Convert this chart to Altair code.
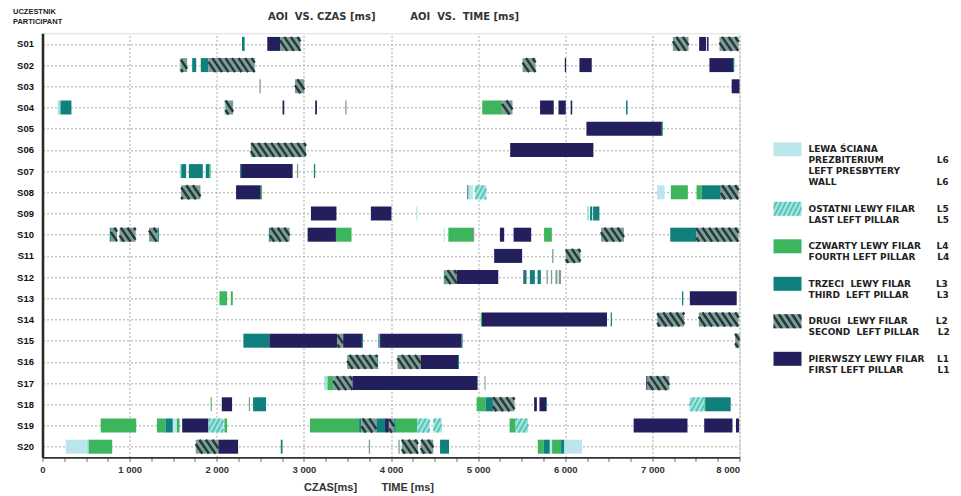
import json
import altair as alt
import pandas as pd

# ---------------- data ----------------
ROW_LABELS = [f"S{i:02d}" for i in range(1, 21)]

S01 = [(2290, 2320, "L3"), (2580, 2726, "L1"), (2726, 2960, "L2"), (7235, 7415, "L2"),
       (7537, 7617, "L1"), (7628, 7645, "L1"), (7770, 7990, "L2")]
S02 = [(1572, 1588, "L5"), (1588, 1660, "L2"), (1718, 1764, "L3"), (1817, 1905, "L3"),
       (1905, 2436, "L2"), (5510, 5659, "L2"), (5995, 6010, "L1"), (6163, 6304, "L1"),
       (7655, 7926, "L1"), (7926, 7940, "L3")]
S03 = [(2490, 2505, "L2"), (2898, 3005, "L2"), (7910, 8000, "L1")]
S04 = [(175, 206, "L5"), (206, 332, "L3"), (2088, 2100, "L5"), (2100, 2188, "L2"),
       (2755, 2775, "L1"), (3130, 3150, "L1"), (3475, 3490, "L2"), (5047, 5276, "L4"),
       (5276, 5395, "L2"), (5711, 5868, "L1"), (5922, 6006, "L1"), (6062, 6080, "L1"),
       (6697, 6715, "L3")]
S05 = [(6243, 7109, "L1"), (7109, 7122, "L4")]
S06 = [(2390, 3024, "L2"), (5368, 6323, "L1")]
S07 = [(1575, 1592, "L5"), (1592, 1649, "L3"), (1680, 1840, "L3"), (1874, 1915, "L3"),
       (1915, 1930, "L4"), (2268, 2280, "L3"), (2280, 2871, "L1"), (2920, 2935, "L2"),
       (3115, 3130, "L3")]
S08 = [(1592, 1813, "L2"), (2222, 2505, "L1"), (2505, 2520, "L4"), (4875, 4890, "L3"),
       (4890, 4940, "L6"), (4963, 5093, "L5"), (7052, 7140, "L6"), (7212, 7407, "L4"),
       (7507, 7567, "L4"), (7567, 7785, "L3"), (7785, 7990, "L2")]
S09 = [(3081, 3374, "L1"), (3769, 4005, "L1"), (4290, 4305, "L6"), (6250, 6272, "L5"),
       (6285, 6310, "L3"), (6320, 6392, "L3")]
S10 = [(772, 785, "L3"), (785, 856, "L2"), (885, 1069, "L2"), (1222, 1313, "L2"),
       (1318, 1335, "L3"), (2598, 2610, "L3"), (2610, 2836, "L2"), (3043, 3368, "L1"),
       (3368, 3547, "L4"), (4605, 4620, "L6"), (4658, 4941, "L4"), (4941, 4955, "L2"),
       (5250, 5299, "L1"), (5407, 5609, "L1"), (5757, 5846, "L4"), (6410, 6674, "L2"),
       (7205, 7503, "L3"), (7503, 7990, "L2")]
S11 = [(5184, 5505, "L1"), (5850, 5865, "L2"), (6006, 6174, "L2")]
S12 = [(4606, 4620, "L4"), (4620, 4754, "L2"), (4754, 5231, "L1"), (5520, 5535, "L1"),
       (5535, 5556, "L3"), (5594, 5651, "L3"), (5682, 5720, "L3"), (5785, 5800, "L2"),
       (5835, 5850, "L2"), (5888, 5910, "L2"), (5925, 5952, "L2")]
S13 = [(2031, 2119, "L4"), (2161, 2184, "L4"), (7340, 7355, "L3"), (7430, 7968, "L1")]
S14 = [(5030, 5044, "L4"), (5044, 6479, "L1"), (6522, 6536, "L3"), (7056, 7366, "L2"),
       (7533, 7990, "L2")]
S15 = [(2306, 2604, "L3"), (2604, 3386, "L1"), (3386, 3451, "L2"), (3451, 3666, "L1"),
       (3666, 3678, "L3"), (3855, 3870, "L3"), (3875, 4811, "L1"), (4811, 4822, "L3"),
       (7950, 8000, "L2")]
S16 = [(3497, 3841, "L2"), (3841, 3852, "L3"), (4074, 4341, "L2"), (4341, 4769, "L1"),
       (4769, 4780, "L3")]
S17 = [(3234, 3272, "L5"), (3272, 3337, "L4"), (3337, 3558, "L2"), (3558, 4994, "L1"),
       (5073, 5085, "L2"), (6930, 6945, "L1"), (6945, 7194, "L2")]
S18 = [(1930, 1942, "L4"), (2058, 2176, "L1"), (2368, 2382, "L2"), (2417, 2566, "L3"),
       (4983, 5086, "L4"), (5086, 5170, "L3"), (5170, 5418, "L2"), (5643, 5674, "L1"),
       (5704, 5780, "L1"), (5780, 5790, "L3"), (7426, 7598, "L5"), (7598, 7606, "L4"),
       (7606, 7899, "L3")]
S19 = [(668, 1076, "L4"), (1313, 1412, "L4"), (1412, 1496, "L3"), (1496, 1542, "L6"),
       (1542, 1573, "L4"), (1603, 1905, "L1"), (1905, 2077, "L5"), (2088, 2119, "L4"),
       (3070, 3634, "L4"), (3634, 3661, "L3"), (3661, 3833, "L2"), (3833, 3932, "L3"),
       (3932, 3975, "L1"), (3979, 4036, "L2"), (4036, 4055, "L3"), (4055, 4303, "L4"),
       (4303, 4445, "L5"), (4486, 4582, "L5"), (5361, 5430, "L4"), (5430, 5574, "L5"),
       (6785, 7403, "L1"), (7595, 7919, "L1"), (7960, 7995, "L1")]
S20 = [(267, 504, "L6"), (504, 530, "L5"), (530, 800, "L4"), (1759, 2019, "L2"),
       (2019, 2245, "L1"), (2735, 2755, "L3"), (3745, 3760, "L2"), (4085, 4100, "L2"),
       (4124, 4310, "L2"), (4341, 4486, "L2"), (4563, 4666, "L3"), (5685, 5754, "L4"),
       (5754, 5823, "L3"), (5823, 5849, "L6"), (5849, 5952, "L4"), (5952, 5990, "L3"),
       (5990, 6193, "L6")]

ROWS = [S01, S02, S03, S04, S05, S06, S07, S08, S09, S10,
        S11, S12, S13, S14, S15, S16, S17, S18, S19, S20]

AOI_CODES = ["L6", "L5", "L4", "L3", "L2", "L1"]
AOI_FILL = ["#bde5ec", "#a4e2dc", "#3cb55c", "#0f807b", "#7f9c97", "#231e5c"]
HATCH_CODES = ["L5", "L2"]
HATCH_STROKE = ["#4fc2b9", "#22393a"]

LEGEND_TEXT = {
    "L6": [("LEWA ŚCIANA", ""), ("PREZBITERIUM", "L6"), ("LEFT PRESBYTERY", ""), ("WALL", "L6")],
    "L5": [("OSTATNI LEWY FILAR", "L5"), ("LAST LEFT PILLAR", "L5")],
    "L4": [("CZWARTY LEWY FILAR", "L4"), ("FOURTH LEFT PILLAR", "L4")],
    "L3": [("TRZECI  LEWY FILAR", "L3"), ("THIRD  LEFT PILLAR", "L3")],
    "L2": [("DRUGI  LEWY FILAR", "L2"), ("SECOND  LEFT PILLAR", "L2")],
    "L1": [("PIERWSZY LEWY FILAR", "L1"), ("FIRST LEFT PILLAR", "L1")],
}

X_TICKS = list(range(0, 8001, 250))
Y_TICKS = list(range(1, 21))

# ---------------- styling helpers ----------------
HALF = 0.33              # half bar height in row units
HATCH_GEOM = {"L2": (75.0, 110.0), "L5": (55.0, -90.0)}  # step, shear (ms)
MIN_HATCH = 40           # narrower segments are drawn plain
NB = "\u00a0"

# approximate DejaVu Sans Bold advance widths (em)
_W = dict(A=.774, B=.762, C=.734, D=.830, E=.683, F=.683, G=.821, H=.837, I=.372, J=.372,
          K=.775, L=.637, M=.995, N=.837, O=.850, P=.733, Q=.850, R=.770, S=.720, T=.682,
          U=.812, V=.774, W=1.103, X=.771, Y=.724, Z=.725)
_W["Ś"] = .720
_W[" "] = .348
LEG_FS = 9


def hatch_key_of(code):
    return "h" + code[1:]


def pad_line(text, code, target=129.0):
    text = text.replace(" ", NB)
    if not code:
        return text
    w = sum(_W.get(c if c != NB else " ", .7) for c in text) * LEG_FS
    n = max(1, int(round((target - w) / (.348 * LEG_FS))))
    return text + NB * n + code


def label_expr():
    expr = "''"
    for code in reversed(AOI_CODES):
        lines = [pad_line(t, c) for t, c in LEGEND_TEXT[code]]
        expr = (f"(datum.value === '{code}' || datum.value === '{hatch_key_of(code)}') ? "
                f"{json.dumps(lines, ensure_ascii=False)} : ({expr})")
    return expr


def _clip(poly, x, keep_greater):
    out = []
    n = len(poly)
    for i in range(n):
        p, q = poly[i], poly[(i + 1) % n]
        pin = p[0] >= x if keep_greater else p[0] <= x
        qin = q[0] >= x if keep_greater else q[0] <= x
        if pin:
            out.append(p)
        if pin != qin:
            t = (x - p[0]) / (q[0] - p[0])
            out.append((x, p[1] + t * (q[1] - p[1])))
    return out


def hatch_path(period, width, shear):
    """Stripe symbol inside the legend swatch box [-1,1] x [-0.5,0.5]."""
    parts = []
    x0 = -1 - abs(shear) - period
    while x0 < 1 + abs(shear) + period:
        poly = [(x0, -0.5), (x0 + width, -0.5), (x0 + width + shear, 0.5), (x0 + shear, 0.5)]
        poly = _clip(_clip(poly, -1, True), 1, False)
        if len(poly) >= 3:
            parts.append("M" + "L".join(f"{a:.3f},{b:.3f}" for a, b in poly) + "Z")
        x0 += period
    return "".join(parts)


EMPTY = "M0,0L0,0Z"
HATCH_KEYS = [hatch_key_of(c) for c in AOI_CODES]
HATCH_SHAPES = [EMPTY, hatch_path(0.33, 0.14, -0.5), EMPTY, EMPTY,
                hatch_path(0.47, 0.22, 0.66), EMPTY]
HATCH_FILLS = ["rgba(0,0,0,0)", "#4fc2b9", "rgba(0,0,0,0)", "rgba(0,0,0,0)",
               "#22393a", "rgba(0,0,0,0)"]

# ---------------- tables ----------------
recs = []
for i, segs in enumerate(ROWS, start=1):
    for s, e, a in segs:
        recs.append({"row": i, "start": s, "end": e, "aoi": a, "hk": hatch_key_of(a),
                     "top": i - HALF, "bot": i + HALF})
df = pd.DataFrame(recs)

srecs = []
for r in recs:
    if r["aoi"] not in HATCH_GEOM or r["end"] - r["start"] < MIN_HATCH:
        continue
    step, D = HATCH_GEOM[r["aoi"]]
    s, e = r["start"], r["end"]
    lo = s - max(D, 0) - step
    hi = e - min(D, 0) + step
    k = int(lo // step)
    while k * step <= hi:
        xs = k * step
        k += 1
        if D > 0:
            lower, upper = (s - xs) / D, (e - xs) / D
        else:
            lower, upper = (e - xs) / D, (s - xs) / D
        t0, t1 = max(0.0, lower), min(1.0, upper)
        if t1 - t0 < 0.12:
            continue
        srecs.append({"aoi": r["aoi"],
                      "xa": xs + t0 * D, "xb": xs + t1 * D,
                      "ya": r["top"] + 2 * HALF * t0, "yb": r["top"] + 2 * HALF * t1})
sdf = pd.DataFrame(srecs)

# ---------------- scales / axes ----------------
xscale = alt.Scale(domain=[0, 8000], nice=False, zero=False)
yscale = alt.Scale(domain=[0.5, 20.5], reverse=True, nice=False, zero=False)

GRID = "#a9a9a9"
xaxis = alt.Axis(
    values=X_TICKS,
    labelExpr="datum.value % 1000 === 0 ? replace(format(datum.value, ','), ',', ' ') : ''",
    labelFont="Liberation Sans", labelFontWeight="bold", labelFontSize=9.5, labelColor="#333",
    labelFlush=False, labelPadding=3, labelOverlap=False,
    labelAlign={"condition": {"test": "datum.value === 8000", "value": "right"}, "value": "center"},
    tickSize=4, tickColor="#666", tickWidth=1,
    grid=True, gridColor=GRID, gridDash=[2, 2], gridWidth=1,
    gridOpacity={"condition": {"test": "datum.value % 1000 === 0", "value": 1}, "value": 0},
    domainColor="#333", domainWidth=1.8,
    title="CZAS[ms]" + NB * 8 + "TIME [ms]",
    titleFont="Liberation Sans", titleFontWeight="bold", titleFontSize=11, titleColor="#333",
    titleX=326, titleY=30, titleBaseline="middle", titleAnchor="middle",
)
yaxis = alt.Axis(
    values=Y_TICKS,
    labelExpr="'S' + (datum.value < 10 ? '0' : '') + datum.value",
    labelFont="Liberation Sans", labelFontWeight="bold", labelFontSize=9.5, labelColor="#111",
    labelPadding=9, ticks=False,
    grid=True, gridColor=GRID, gridDash=[2, 2], gridWidth=1,
    domainColor="#2a2a2a", domainWidth=2.6,
    title=["UCZESTNIK", "PARTICIPANT"], titleAngle=0, titleAlign="left", titleBaseline="top",
    titleX=-30, titleY=-26, titleFont="Liberation Sans", titleFontWeight="bold",
    titleFontSize=7.5, titleLineHeight=10, titleColor="#222",
)

LEG_COMMON = dict(
    orient="none", legendX=731, legendY=102, title=None, padding=0,
    symbolSize=784, symbolStrokeWidth=0, symbolOpacity=1,
    labelExpr=label_expr(), labelFont="DejaVu Sans", labelFontWeight="bold",
    labelFontSize=LEG_FS, labelColor="#222", labelOffset=7, labelLimit=400,
    rowPadding=7.5,
)
legend = alt.Legend(symbolType="M-1,-0.5H1V0.5H-1Z", zindex=1, **LEG_COMMON)
hatch_legend = alt.Legend(labelOpacity=0, zindex=2, **LEG_COMMON)

bars = alt.Chart(df).mark_rect(strokeWidth=0).encode(
    x=alt.X("start:Q", scale=xscale, axis=xaxis),
    x2="end:Q",
    y=alt.Y("top:Q", scale=yscale, axis=yaxis),
    y2="bot:Q",
    color=alt.Color("aoi:N", scale=alt.Scale(domain=AOI_CODES, range=AOI_FILL), legend=legend),
)

stripes = alt.Chart(sdf).mark_rule().encode(
    x=alt.X("xa:Q", scale=xscale, axis=xaxis),
    x2="xb:Q",
    y=alt.Y("ya:Q", scale=yscale, axis=yaxis),
    y2="yb:Q",
    stroke=alt.Stroke("aoi:N", scale=alt.Scale(domain=HATCH_CODES, range=HATCH_STROKE), legend=None),
    strokeWidth=alt.StrokeWidth("aoi:N", scale=alt.Scale(domain=HATCH_CODES, range=[1.7, 2.4]), legend=None),
)

# invisible layer that only provides the hatched legend swatches
hatch_key = alt.Chart(df).transform_filter("false").mark_point(filled=True, opacity=1, strokeWidth=0).encode(
    x=alt.X("start:Q", scale=xscale, axis=xaxis),
    y=alt.Y("top:Q", scale=yscale, axis=yaxis),
    fill=alt.Fill("hk:N", scale=alt.Scale(domain=HATCH_KEYS, range=HATCH_FILLS), legend=hatch_legend),
    shape=alt.Shape("hk:N", scale=alt.Scale(domain=HATCH_KEYS, range=HATCH_SHAPES), legend=hatch_legend),
)

chart = alt.layer(bars, stripes, hatch_key).properties(
    width=697, height=424,
    autosize=alt.AutoSizeParams(type="none"),
    padding={"left": 34.5, "top": 25.3, "right": 212, "bottom": 36},
    title=alt.TitleParams(
        text="AOI" + NB * 2 + "VS." + NB + "CZAS" + NB + "[ms]" + NB * 10 + "AOI" + NB * 2 + "VS." + NB * 2 + "TIME [ms]",
        frame="group", anchor="middle", dx=2.5, dy=23, offset=8,
        font="DejaVu Sans", fontWeight="bold", fontSize=10, color="#333",
    ),
).configure_view(stroke="#666", strokeWidth=1.6).configure(
    background="white"
)

chart.save("out.html", embed_options={"renderer": "svg", "actions": False})
